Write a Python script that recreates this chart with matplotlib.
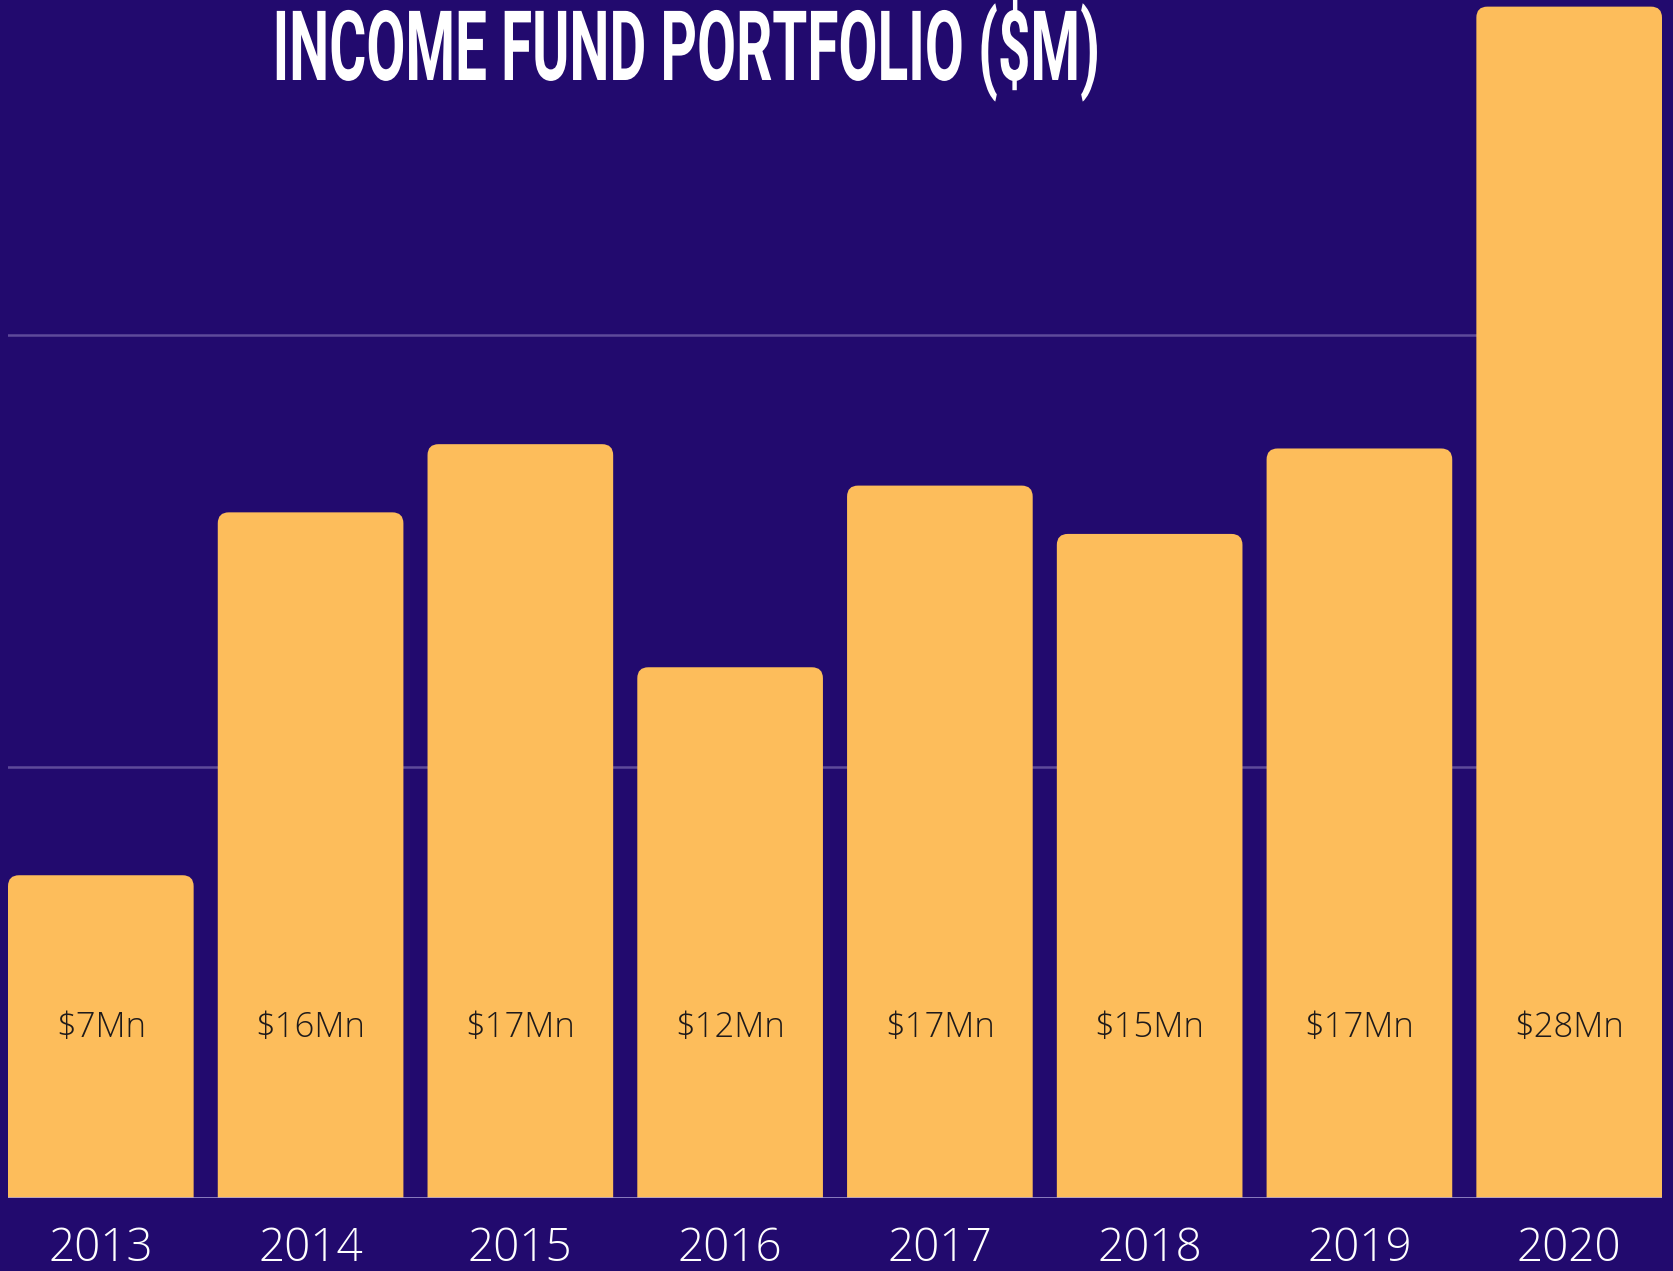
import matplotlib
matplotlib.use("Agg")
import matplotlib.pyplot as plt
from matplotlib.patches import FancyBboxPatch
from matplotlib.patheffects import AbstractPathEffect
from matplotlib.transforms import Affine2D

years = ["2013", "2014", "2015", "2016", "2017", "2018", "2019", "2020"]
values = [7.48, 15.89, 17.47, 12.30, 16.51, 15.39, 17.37, 27.61]
value_labels = ["$7Mn", "$16Mn", "$17Mn", "$12Mn", "$17Mn", "$15Mn", "$17Mn", "$28Mn"]
title = "INCOME FUND PORTFOLIO ($M)"

BG = "#220a6e"
BAR = "#fdbd5b"
GRID = "#5e4a9a"
BASE = "#a99ed6"

W, H = 1674, 1271
fig = plt.figure(figsize=(W / 100, H / 100), dpi=100, facecolor=BG)
ax = fig.add_axes([8 / W, 73 / H, (1662 - 8) / W, 1198 / H])
ax.set_facecolor(BG)

width = 0.885
x = list(range(len(years)))
bars = ax.bar(x, values, width=width, color=BAR, zorder=2)
ax.set_xlim(-width / 2, len(years) - 1 + width / 2)
ax.set_ylim(0, 1198 / 43.15)

# replace rectangles by rounded-top patches
px_per_x = (1662 - 8) / (len(years) - 1 + width)
px_per_y = 43.15
r_px = 11
rs = r_px / px_per_x
aspect = (r_px / px_per_y) / rs
for rect in bars:
    bx, by = rect.get_x(), rect.get_y()
    bw, bh = rect.get_width(), rect.get_height()
    rect.set_visible(False)
    p = FancyBboxPatch((bx, by - 2), bw, bh + 2,
                       boxstyle=f"round,pad=0,rounding_size={rs}",
                       mutation_aspect=aspect, facecolor=BAR, edgecolor="none",
                       zorder=2, clip_on=True)
    ax.add_patch(p)

ax.set_yticks([10, 20])
ax.yaxis.grid(True, color=GRID, linewidth=1.8, zorder=0)
ax.set_axisbelow(True)
ax.axhline(0, color=BASE, linewidth=1.8, zorder=3)
for s in ax.spines.values():
    s.set_visible(False)
ax.tick_params(axis="y", left=False, labelleft=False)
ax.set_xticks(x)
ax.set_xticklabels(years, fontsize=33, color="white",
                   fontfamily=["Open Sans", "DejaVu Sans"], fontweight="light")
ax.tick_params(axis="x", length=0, pad=20)

for xi, lab in zip(x, value_labels):
    ax.text(xi, 3.95, lab, ha="center", va="center", fontsize=25,
            color="#1e1a1a", fontfamily=["Open Sans", "DejaVu Sans"], fontweight="light", zorder=4)


class Stretch(AbstractPathEffect):
    def __init__(self, sx, sy):
        super().__init__()
        self.sx = sx
        self.sy = sy

    def draw_path(self, renderer, gc, tpath, affine, rgbFace=None):
        ext = tpath.get_extents()
        cx = (ext.x0 + ext.x1) / 2
        t = Affine2D().translate(-cx, 0).scale(self.sx, self.sy).translate(cx, 0)
        renderer.draw_path(gc, tpath, t + affine, rgbFace)


fig.text(686 / W, 1 - 80 / H, title, ha="center", va="baseline", fontsize=40,
         color="white", fontfamily=["Roboto", "DejaVu Sans"], fontweight="bold",
         path_effects=[Stretch(1.02, 1.75)])

fig.savefig("out.png", dpi=100, facecolor=BG)
